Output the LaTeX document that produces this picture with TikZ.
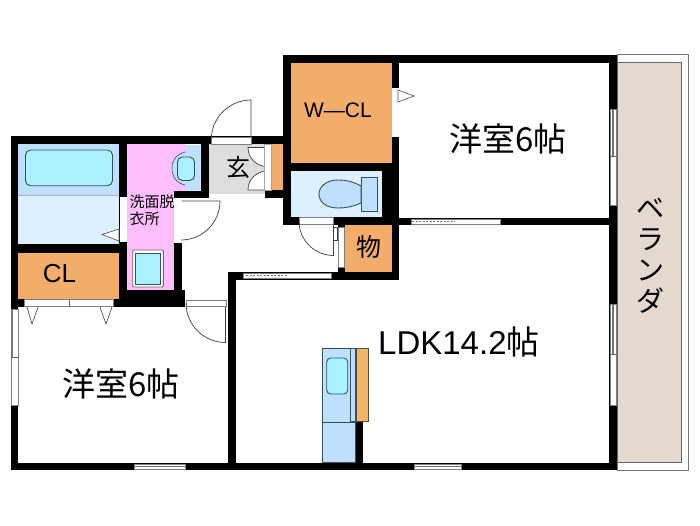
\documentclass[tikz,border=0pt]{standalone}
\usepackage{fontspec}
\setmainfont{Liberation Sans}
\newfontfamily\cjk{Noto Sans CJK JP}
\definecolor{wash}{HTML}{FFBFFF}
\definecolor{lblue}{HTML}{BFDFFF}
\definecolor{pale}{HTML}{DDF0FF}
\definecolor{cyanfix}{HTML}{AAF0FF}
\definecolor{closet}{HTML}{F2AD6B}
\definecolor{veranda}{HTML}{E3D9CF}
\definecolor{hall}{HTML}{DDDDDD}
\definecolor{fixline}{HTML}{33505F}
\tikzset{
  wall/.style={fill=black,draw=none},
  opening/.style={fill=white,draw=none},
  winframe/.style={fill=white,draw=black!50,line width=.7pt},
  doorleaf/.style={draw=black!75,line width=.7pt},
  fixture/.style={draw=fixline,line width=.9pt},
  lbl/.style={inner sep=0pt,text=black},
}
\begin{document}
\begin{tikzpicture}[x=1pt,y=-1pt]
\useasboundingbox (0,0) rectangle (700,525);
\fill[white] (0,0) rectangle (700,525);
% veranda
\draw[draw=black!55,fill=white,line width=.9pt] (617,54.5) rectangle (688.5,470);
\draw[draw=black!60,fill=veranda,line width=.9pt] (617,62.5) rectangle (681.5,462.5);
% room fills
\fill[closet] (290.7,62.7) rectangle (391.7,163.3);
\fill[pale] (290.7,171.3) rectangle (382,216.7);
\fill[closet] (345,225) rectangle (391.7,271.7);
\fill[closet] (18.3,252.7) rectangle (119.3,299);
\fill[lblue] (18.3,144) rectangle (119.3,194.5);
\fill[pale] (18.3,195.5) rectangle (119.3,244);
\fill[wash] (127.3,144) rectangle (174,290);
\fill[wash] (174,144) rectangle (185,191);
\fill[lblue] (185,145) -- (200.5,145) -- (200.5,190.5) -- (185,190.5) -- (185,185) .. controls (176,183) and (172,176) .. (172,168) .. controls (172,160) and (176,155) .. (185,152) -- cycle;
\fill[hall] (209,144) rectangle (265,194);
% walls
\path[wall] (10.7,135.7) rectangle (208.7,144);
\path[wall] (10.7,135.7) rectangle (18.3,470);
\path[wall] (10.7,462.7) rectangle (617,470);
\path[wall] (609.3,54.5) rectangle (617,470);
\path[wall] (282.7,54.5) rectangle (617,62.7);
\path[wall] (282.7,54.5) rectangle (290.7,225);
\path[wall] (200.5,136) rectangle (290,144.3);
\path[wall] (119.3,136) rectangle (127.3,307);
\path[wall] (18,244) rectangle (127,252.7);
\path[wall] (10.7,299) rectangle (185,307);
\path[wall] (127,290) rectangle (185,307);
\path[wall] (174,190.7) rectangle (181.7,307);
\path[wall] (200.5,136) rectangle (208.7,198);
\path[wall] (174,190.7) rectangle (208.7,198);
\path[wall] (265,190) rectangle (290,198);
\path[wall] (290,163.3) rectangle (399,171.3);
\path[wall] (382,163) rectangle (399,225);
\path[wall] (391.7,54.5) rectangle (399,280);
\path[wall] (282.7,216.7) rectangle (399,225);
\path[wall] (337.5,225) rectangle (345,280);
\path[wall] (337,271.7) rectangle (399,280);
\path[wall] (228,271.7) rectangle (345,280);
\path[wall] (228,271.7) rectangle (236,470);
\path[wall] (399,217.7) rectangle (617,225);
\path[wall] (356,420) rectangle (363,463);
% openings: interior doors
\path[opening] (120,197) rectangle (127.3,242);
\path[opening] (174,197.5) rectangle (181.7,243);
\path[opening] (392,88) rectangle (398.5,137);
\draw[fill=white,draw=black!70,line width=.6pt] (398,90) -- (414,96) -- (398,102) -- cycle;
\draw[fill=white,draw=black!70,line width=.6pt] (119,229) -- (102,234.5) -- (119,241) -- cycle;
% closet sliding doors
\draw[winframe] (24,299.5) rectangle (113.5,306.5);
\draw[draw=black!60,line width=.7pt] (69,299.5) -- (69,306.5);
\draw[fill=white,draw=black!75,line width=.6pt] (27,307) -- (32,324) -- (38,307);
\draw[fill=white,draw=black!75,line width=.6pt] (100,307) -- (106,324) -- (112,307);
% entry door
\draw[winframe] (211.5,137) rectangle (251,144);
\draw[doorleaf] (251,137) -- (251,100) arc[start angle=-90,end angle=-180,radius=39.7];
% hall door (washroom)
\draw[doorleaf] (181.7,201) -- (220,201) arc[start angle=0,end angle=90,radius=39];
% room door (western room)
\draw[winframe] (186,300) rectangle (226,306.5);
\draw[doorleaf] (225.5,307) -- (225.5,342.5) arc[start angle=90,end angle=180,radius=39.5];
% wc door
\draw[winframe] (299,217.5) rectangle (333.5,224.5);
\draw[doorleaf] (333.5,225) -- (333.5,255.5) arc[start angle=90,end angle=180,radius=34.5];
% storage door
\draw[winframe] (338,227) rectangle (344,267);
\draw[doorleaf] (334,227) -- (337.5,227) -- (337.5,240) -- (334,240);
% shoe closet doors
\draw[doorleaf,fill=white] (248,147.5) arc[start angle=180,end angle=90,radius=19] -- (265,147.5) -- cycle;
\draw[doorleaf,fill=white] (248,190) arc[start angle=180,end angle=270,radius=19] -- (265,190) -- cycle;
\draw[winframe,draw=black!35] (264.5,144.3) rectangle (271.5,190);
\fill[closet] (272,144.3) rectangle (282.7,190);
% windows
\draw[winframe] (243.5,273) rectangle (331,278.5);
\draw[draw=black!55,line width=.7pt,dash pattern=on 2pt off 1.5pt] (246,275.7) -- (288,275.7);
\draw[winframe] (411,219) rectangle (500,224);
\draw[draw=black!55,line width=.7pt,dash pattern=on 2pt off 1.5pt] (412,221.5) -- (455,221.5);
\draw[winframe] (134,464) rectangle (185,469);
\draw[draw=black!55,line width=.7pt] (134,466.5) -- (185,466.5);
\draw[winframe] (414,464) rectangle (461,469);
\draw[draw=black!55,line width=.7pt] (414,466.5) -- (461,466.5);
\draw[winframe] (11,309) rectangle (18,405);
\draw[draw=black!55,line width=1.4pt] (12.5,309) -- (12.5,357);
\draw[draw=black!60,line width=.7pt] (10.5,357) -- (18.5,357);
\draw[winframe] (610,109) rectangle (616.5,205.7);
\draw[draw=black!55,line width=1.2pt] (613,109) -- (613,156.7);
\draw[draw=black!60,line width=.7pt] (609.5,156.7) -- (616.5,156.7);
\draw[winframe] (610,304) rectangle (616.5,405.7);
\draw[draw=black!55,line width=1.2pt] (613,304) -- (613,354);
\draw[draw=black!60,line width=.7pt] (609.5,354) -- (616.5,354);
% bath fixtures
\draw[fixture,fill=cyanfix,rounded corners=5pt] (25.5,150) rectangle (112.5,185.7);
\draw[line width=.5pt,draw=black!30] (18.3,195) -- (119.3,195);
% basin
\draw[fixture,fill=cyanfix,rounded corners=5pt] (177.5,157) rectangle (194.5,180.5);
\draw[fixture,line width=.6pt] (185,152) .. controls (176,155) and (172,160) .. (172,168) .. controls (172,176) and (176,183) .. (185,185);
% washer
\draw[draw=black!60,fill=white,line width=.9pt,rounded corners=1pt] (132.7,250) rectangle (163.3,287);
\draw[draw=fixline,fill=cyanfix,line width=.9pt] (135.5,253) rectangle (160.5,284);
% toilet
\draw[fixture,fill=lblue] (361,177) rectangle (377.5,211);
\draw[fixture,fill=lblue] (361,186) .. controls (352,181) and (345,180) .. (338,180) .. controls (326,180) and (319,187) .. (319,194) .. controls (319,202) and (326,208) .. (338,208) .. controls (345,208) and (352,207) .. (361,203) -- cycle;
% kitchen
\draw[fixture,fill=lblue] (322,348) rectangle (355,462.7);
\draw[fixture] (322,422.7) -- (355,422.7);
\draw[fixture] (350,348) -- (350,421) -- (355,421);
\draw[fixture,fill=cyanfix,rounded corners=4pt] (326.7,358) rectangle (347.7,394);
\draw[draw=black!70,fill=closet!90!yellow,line width=.7pt] (356,348.5) rectangle (368,421);
% labels
\node[lbl] (westA) at (508,139) {\fontsize{33}{36}\selectfont\cjk 洋室6帖};
\node[lbl] (westB) at (121,384) {\fontsize{33}{36}\selectfont\cjk 洋室6帖};
\node[lbl,anchor=west] (ldk) at (378,342) {\fontsize{33}{36}\selectfont LDK14.2\cjk 帖};
\node[lbl] (wcl) at (338,110) {\fontsize{21}{24}\selectfont W—CL};
\node[lbl] (cl) at (59.5,274) {\fontsize{26}{28}\selectfont CL};
\node[lbl] (mono) at (368.5,247) {\fontsize{25}{27}\selectfont\cjk 物};
\node[lbl] (gen) at (238,167) {\fontsize{24}{26}\selectfont\cjk 玄};
\node[lbl,anchor=north west,align=left,font=\fontsize{15}{16.5}\selectfont\cjk] (sen) at (129.5,195) {洗面脱\\衣所};
\node[lbl,align=center,font=\fontsize{28}{31}\selectfont\cjk] (ver) at (650,256) {ベ\\ラ\\ン\\ダ};
\end{tikzpicture}
\end{document}
